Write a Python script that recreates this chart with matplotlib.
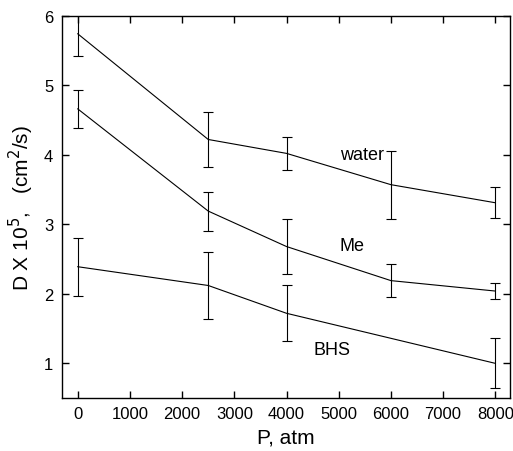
import matplotlib
matplotlib.use("Agg")
import matplotlib.pyplot as plt

plt.rcParams['font.family'] = ['Liberation Sans', 'DejaVu Sans']

# pressure points (atm)
p_water = [0, 2500, 4000, 6000, 8000]
d_water = [5.74, 4.22, 4.02, 3.57, 3.31]
err_water = [0.32, 0.40, 0.24, 0.49, 0.22]

p_me = [0, 2500, 4000, 6000, 8000]
d_me = [4.66, 3.19, 2.68, 2.19, 2.04]
err_me = [0.27, 0.28, 0.39, 0.24, 0.12]

p_bhs = [0, 2500, 4000, 8000]
d_bhs = [2.39, 2.12, 1.72, 1.00]
err_bhs = [0.42, 0.48, 0.40, 0.36]

fig = plt.figure(figsize=(5.13, 4.52), dpi=100)
ax = fig.add_axes([0.120, 0.117, 0.874, 0.846])

for p, d, e in [(p_water, d_water, err_water), (p_me, d_me, err_me), (p_bhs, d_bhs, err_bhs)]:
    ax.errorbar(p, d, yerr=e, color='black', lw=0.8, elinewidth=0.8,
                capsize=3.5, capthick=0.8)

ax.text(5440, 4.0, 'water', ha='center', va='center', fontsize=13)
ax.text(5250, 2.69, 'Me', ha='center', va='center', fontsize=13)
ax.text(4870, 1.2, 'BHS', ha='center', va='center', fontsize=13)

ax.set_xlim(-310, 8280)
ax.set_ylim(0.5, 6)
ax.set_xticks(range(0, 8001, 1000))
ax.set_yticks([1, 2, 3, 4, 5, 6])
ax.tick_params(direction='in', top=True, right=True, length=5, width=1, labelsize=12, pad=6)
for s in ax.spines.values():
    s.set_linewidth(1.0)

ax.set_xlabel('P, atm', fontsize=15, labelpad=4)
ax.set_ylabel(r'D X 10$^5$,   (cm$^2$/s)', fontsize=15, labelpad=6)

fig.savefig('out.png', dpi=100)
